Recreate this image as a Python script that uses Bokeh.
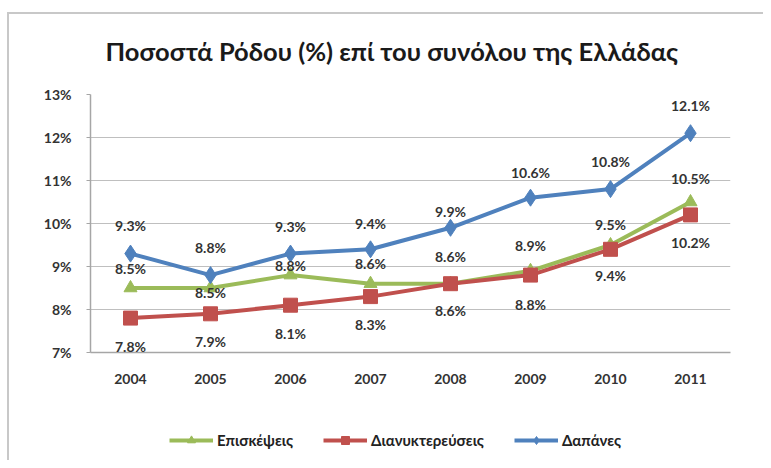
from bokeh.plotting import figure
from bokeh.layouts import column
from bokeh.models import (ColumnDataSource, FixedTicker, PrintfTickFormatter, Legend, LegendItem,
                          LabelSet, Range1d)
from bokeh.embed import file_html
from bokeh.resources import INLINE
from bokeh.core.properties import value

years = ["2004", "2005", "2006", "2007", "2008", "2009", "2010", "2011"]
visits = [8.5, 8.5, 8.8, 8.6, 8.6, 8.9, 9.5, 10.5]          # Επισκέψεις
overnights = [7.8, 7.9, 8.1, 8.3, 8.6, 8.8, 9.4, 10.2]      # Διανυκτερεύσεις
spending = [9.3, 8.8, 9.3, 9.4, 9.9, 10.6, 10.8, 12.1]      # Δαπάνες
y_ticks = [7, 8, 9, 10, 11, 12, 13]
series_names = ["Επισκέψεις", "Διανυκτερεύσεις", "Δαπάνες"]

# label offsets (pixels, positive = up)
visits_off = [20, -4, 10, 20, 27, 25, 21, 24]
overnights_off = [-28, -28, -28, -28, -27, -29, -26, -28]
spending_off = [28, 28, 27, 26, 16, 25, 28, 28]

GREEN = "#9BBB59"
RED = "#C0504D"
BLUE = "#4F81BD"
FRAME = "#C8C8C8"
FONT = "Lato"

W, H1, H2 = 763, 400, 60
p = figure(width=W, height=H1, x_range=years, y_range=Range1d(7, 13),
           output_backend="svg", toolbar_location=None,
           title="Ποσοστά Ρόδου (%) επί του συνόλου της Ελλάδας",
           min_border_left=90, min_border_right=W - 730, min_border_top=94,
           min_border_bottom=H1 - 352)
p.border_fill_color = None
p.background_fill_color = None
p.styles = {"background-color": "white",
            "background-image": f"linear-gradient({FRAME}, {FRAME}), linear-gradient({FRAME}, {FRAME})",
            "background-size": "100% 2px, 2px 100%",
            "background-position": "8px 12px, 7px 12px",
            "background-repeat": "no-repeat"}
p.title.text_font = FONT
p.title.text_font_style = "bold"
p.title.text_font_size = "25.5px"
p.title.text_color = "#1a1a1a"
p.title.align = "left"
p.title.offset = 15
p.title.standoff = 57

p.outline_line_color = None
p.xgrid.grid_line_color = None
p.ygrid.grid_line_color = "#BFBFBF"
p.ygrid.grid_line_width = 1
p.yaxis.ticker = FixedTicker(ticks=y_ticks)
p.yaxis.formatter = PrintfTickFormatter(format="%d%%")
for ax in (p.xaxis[0], p.yaxis[0]):
    ax.axis_line_color = "#A6A6A6"
    ax.axis_line_width = 1.5
    ax.major_label_text_font = FONT
    ax.major_label_text_font_style = "bold"
    ax.major_label_text_font_size = "14px"
    ax.major_label_text_color = "#333333"
    ax.minor_tick_line_color = None
p.yaxis.major_tick_line_color = "#A6A6A6"
p.yaxis.major_tick_out = 4
p.yaxis.major_tick_in = 0
p.yaxis.major_label_standoff = 15
p.xaxis.major_tick_line_color = None
p.xaxis.major_label_standoff = 15

def lab(v):
    return ["%.1f%%" % x for x in v]

src_v = ColumnDataSource(dict(x=years, y=visits, t=lab(visits), o=visits_off))
src_o = ColumnDataSource(dict(x=years, y=overnights, t=lab(overnights), o=overnights_off))
src_s = ColumnDataSource(dict(x=years, y=spending, t=lab(spending), o=spending_off))

p.line("x", "y", source=src_v, color=GREEN, line_width=4)
p.scatter("x", "y", source=src_v, marker="triangle", size=13, color=GREEN)
p.line("x", "y", source=src_o, color=RED, line_width=4)
p.scatter("x", "y", source=src_o, marker="square", size=14, color=RED)
p.line("x", "y", source=src_s, color=BLUE, line_width=4)
p.scatter("x", "y", source=src_s, marker="diamond", size=17, color=BLUE)

for src in (src_v, src_o, src_s):
    p.add_layout(LabelSet(x="x", y="y", text="t", source=src, y_offset="o",
                          text_align="center", text_baseline="middle",
                          text_font=value(FONT), text_font_style="bold",
                          text_font_size="14px", text_color="#333333"))

# legend strip (separate figure below the chart)
q = figure(width=W, height=H2, output_backend="svg", toolbar_location=None,
           x_range=Range1d(0, 1), y_range=Range1d(0, 1),
           x_axis_location=None, y_axis_location=None,
           min_border_left=0, min_border_right=0, min_border_top=0, min_border_bottom=0)
q.grid.visible = False
q.outline_line_color = None
q.border_fill_color = None
q.background_fill_color = None
q.styles = {"background-color": "white",
            "background-image": f"linear-gradient({FRAME}, {FRAME})",
            "background-size": "2px 100%",
            "background-position": "7px 0px",
            "background-repeat": "no-repeat"}
items = []
for name, col, mk, sz in zip(series_names, [GREEN, RED, BLUE],
                             ["triangle", "square", "diamond"], [9, 10, 11]):
    l = q.line([-5, -4], [-5, -4], color=col, line_width=4)
    m = q.scatter([-5], [-5], marker=mk, size=sz, color=col)
    items.append(LegendItem(label=name, renderers=[l, m]))
legend = Legend(items=items, orientation="horizontal", location=(79, 10),
                label_text_font=FONT, label_text_font_style="bold",
                label_text_font_size="15px", label_text_color="#222222",
                glyph_width=44, label_standoff=4, spacing=30, padding=10,
                border_line_color=None, background_fill_alpha=0)
q.add_layout(legend)

layout = column(p, q, spacing=0)
open("out.html", "w").write(file_html(layout, INLINE))
